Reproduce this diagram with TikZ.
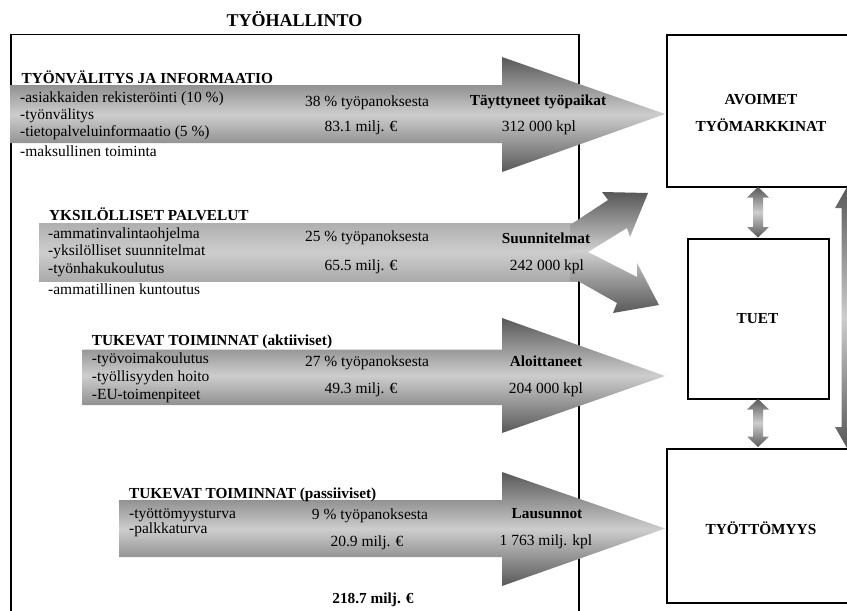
\documentclass[tikz,border=0pt]{standalone}
\usepackage{fontspec}
\setmainfont{Liberation Serif}
\definecolor{arrdark}{RGB}{88,88,88}
\definecolor{arrlight}{RGB}{205,205,205}
\begin{document}
\begin{tikzpicture}[x=1pt,y=-1pt,
  txt/.style={inner sep=0pt, anchor=base west, font=\fontsize{15.5}{18}\selectfont},
  ctxt/.style={inner sep=0pt, anchor=base, font=\fontsize{15.5}{18}\selectfont},
  btxt/.style={inner sep=0pt, anchor=base west, font=\fontsize{15.3}{18}\selectfont\bfseries},
  bctxt/.style={inner sep=0pt, anchor=base, font=\fontsize{15.3}{18}\selectfont\bfseries},
  boxline/.style={draw=black, line width=1.8pt},
  vshade/.style={top color=arrdark, bottom color=arrdark, middle color=arrlight},
  upshade/.style={top color=arrdark, bottom color=arrlight!90!white},
  downshade/.style={top color=arrlight, bottom color=arrdark},
]
\useasboundingbox (0,0) rectangle (847,611);
\clip (0,0) rectangle (847,611);
\fill[white] (0,0) rectangle (847,611);

% title and main box
\node[inner sep=0pt, anchor=base, font=\fontsize{18}{21}\selectfont\bfseries] (title) at (294.5,26.7) {TYÖHALLINTO};
\node[boxline, inner sep=0pt, anchor=north west, minimum width=568pt, minimum height=620pt] (hallinto) at (10,33.5) {};

% right boxes
\node[boxline, inner sep=0pt, anchor=north west, minimum width=220pt, minimum height=152pt] (avoimet) at (666,34) {};
\node[boxline, inner sep=0pt, anchor=north west, minimum width=141pt, minimum height=160pt] (tuet) at (687,238) {};
\node[boxline, inner sep=0pt, anchor=north west, minimum width=220pt, minimum height=154pt] (tyottomyys) at (666,448) {};

% arrow 1
\shade[vshade] (10,85) -- (502,85) -- (502,57) -- (665,114) -- (502,172) -- (502,143) -- (10,143) -- cycle;
% arrow 2 (band + split)
\shade[top color=arrlight!75!arrdark, bottom color=arrlight!70!arrdark, middle color=arrlight] (39,223.5) rectangle (578,281);
\shade[upshade] (570,225) -- (608,200) -- (602,192) -- (648,193) -- (630,237) -- (627,228) -- (588,252) -- (570,252) -- cycle;
\shade[downshade] (570,252) -- (588,252) -- (637,277) -- (637,263) -- (659,305) -- (613,313) -- (617,303) -- (578,281) -- (570,281) -- cycle;
% arrow 3
\shade[vshade] (82.7,349.5) -- (502,349.5) -- (502,318) -- (665,376) -- (502,433) -- (502,405) -- (82.7,405) -- cycle;
% arrow 4
\shade[vshade] (119,500) -- (502,500) -- (502,472) -- (665,528.5) -- (502,586) -- (502,557) -- (119,557) -- cycle;

% double arrows
\shade[vshade] (758,187) -- (769,197.5) -- (763,197.5) -- (763,227) -- (769,227) -- (758,237.5) -- (747,227) -- (753,227) -- (753,197.5) -- (747,197.5) -- cycle;
\shade[vshade] (758,399) -- (769,409.5) -- (763,409.5) -- (763,436.5) -- (769,436.5) -- (758,447) -- (747,436.5) -- (753,436.5) -- (753,409.5) -- (747,409.5) -- cycle;
\shade[vshade] (847,187) -- (859,208) -- (852.5,208) -- (852.5,427) -- (859,427) -- (847,448) -- (835,427) -- (841.5,427) -- (841.5,208) -- (835,208) -- cycle;

% section 1
\node[btxt] (h1) at (21.5,83.3) {TYÖNVÄLITYS JA INFORMAATIO};
\node[txt] (a1) at (20,102) {-asiakkaiden rekisteröinti (10 \%)};
\node[txt] (a2) at (20,119) {-työnvälitys};
\node[txt] (a3) at (20,136.7) {-tietopalveluinformaatio (5 \%)};
\node[txt] (a4) at (20,156.7) {-maksullinen toiminta};
\node[ctxt] (p1) at (367,106) {38 \% työpanoksesta};
\node[ctxt] (m1) at (361,131.7) {83.1 milj. €};
\node[bctxt] (r1) at (538,105) {Täyttyneet työpaikat};
\node[ctxt] (k1) at (539,131.7) {312 000 kpl};

% section 2
\node[btxt] (h2) at (49,220) {YKSILÖLLISET PALVELUT};
\node[txt] (b1) at (48,238.3) {-ammatinvalintaohjelma};
\node[txt] (b2) at (48,255) {-yksilölliset suunnitelmat};
\node[txt] (b3) at (48,273.3) {-työnhakukoulutus};
\node[txt] (b4) at (48,294) {-ammatillinen kuntoutus};
\node[ctxt] (p2) at (367,241.7) {25 \% työpanoksesta};
\node[ctxt] (m2) at (361,270) {65.5 milj. €};
\node[bctxt] (r2) at (546,243.3) {Suunnitelmat};
\node[ctxt] (k2) at (547,270.7) {242 000 kpl};

% section 3
\node[btxt] (h3) at (91.7,345) {TUKEVAT TOIMINNAT (aktiiviset)};
\node[txt] (c1) at (91.7,363.3) {-työvoimakoulutus};
\node[txt] (c2) at (91.7,381.7) {-työllisyyden hoito};
\node[txt] (c3) at (91.7,399.3) {-EU-toimenpiteet};
\node[ctxt] (p3) at (367,366) {27 \% työpanoksesta};
\node[ctxt] (m3) at (361,393.3) {49.3 milj. €};
\node[bctxt] (r3) at (546,366.7) {Aloittaneet};
\node[ctxt] (k3) at (546,393.3) {204 000 kpl};

% section 4
\node[btxt] (h4) at (129,498.3) {TUKEVAT TOIMINNAT (passiiviset)};
\node[txt] (d1) at (129,518.3) {-työttömyysturva};
\node[txt] (d2) at (129,533.3) {-palkkaturva};
\node[ctxt] (p4) at (370,519.3) {9 \% työpanoksesta};
\node[ctxt] (m4) at (367,546.7) {20.9 milj. €};
\node[bctxt] (r4) at (547,518.3) {Lausunnot};
\node[ctxt] (k4) at (546,545) {1 763 milj. kpl};
\node[bctxt] (total) at (373,603.3) {218.7 milj. €};

% box labels
\node[bctxt] (l1) at (761,104.3) {AVOIMET};
\node[bctxt] (l2) at (761,131.7) {TYÖMARKKINAT};
\node[bctxt] (l3) at (757.5,323.3) {TUET};
\node[bctxt] (l4) at (761,534) {TYÖTTÖMYYS};
\end{tikzpicture}
\end{document}
